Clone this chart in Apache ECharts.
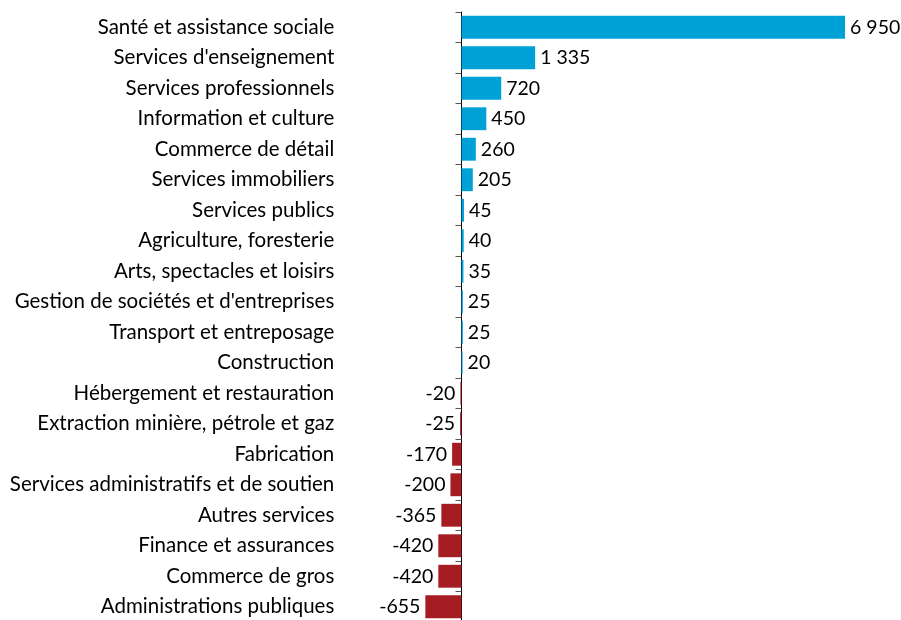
<!DOCTYPE html>
<html>
<head>
<meta charset="utf-8">
<script src="https://cdn.jsdelivr.net/npm/echarts@6/dist/echarts.min.js"></script>
<style>
  html, body { margin: 0; padding: 0; background: #fff; }
  #chart { width: 901px; height: 620px; }
</style>
</head>
<body>
<div id="chart"></div>
<script>
// secteurs, du haut vers le bas
var categories = [
  'Santé et assistance sociale',
  "Services d'enseignement",
  'Services professionnels',
  'Information et culture',
  'Commerce de détail',
  'Services immobiliers',
  'Services publics',
  'Agriculture, foresterie',
  'Arts, spectacles et loisirs',
  "Gestion de sociétés et d'entreprises",
  'Transport et entreposage',
  'Construction',
  'Hébergement et restauration',
  'Extraction minière, pétrole et gaz',
  'Fabrication',
  'Services administratifs et de soutien',
  'Autres services',
  'Finance et assurances',
  'Commerce de gros',
  'Administrations publiques'
];
var values = [6950, 1335, 720, 450, 260, 205, 45, 40, 35, 25, 25, 20,
  -20, -25, -170, -200, -365, -420, -420, -655];

var posColor = '#00A1D7';
var negColor = '#A51D23';

function fmt(v) {
  // espace comme séparateur de milliers
  var s = String(Math.abs(v)).replace(/\B(?=(\d{3})+(?!\d))/g, ' ');
  return (v < 0 ? '-' : '') + s;
}

var seriesData = values.map(function (v) {
  return {
    value: v,
    itemStyle: { color: v < 0 ? negColor : posColor },
    label: { position: v < 0 ? 'left' : 'right' }
  };
});

var myChart = echarts.init(document.getElementById('chart'));
myChart.setOption({
  animation: false,
  textStyle: { fontFamily: 'Lato' },
  grid: { left: 406.3, right: 53.2, top: 12, height: 610, outerBoundsMode: 'none' },
  xAxis: {
    type: 'value',
    min: -1000,
    max: 7000,
    axisLine: { show: false },
    axisTick: { show: false },
    axisLabel: { show: false },
    splitLine: { show: false }
  },
  yAxis: {
    type: 'category',
    inverse: true,
    data: categories,
    axisLine: { onZero: true, lineStyle: { color: '#000', width: 1 } },
    axisTick: { show: true, length: 6, lineStyle: { color: '#555' } },
    axisLabel: { margin: 72, fontSize: 20.5, color: '#000', fontFamily: 'Lato' }
  },
  series: [{
    type: 'bar',
    data: seriesData,
    barCategoryGap: '25%',
    label: {
      show: true,
      distance: 5,
      fontSize: 19.5,
      color: '#000',
      fontFamily: 'Lato',
      formatter: function (p) { return fmt(p.value); }
    }
  }]
});
</script>
</body>
</html>
